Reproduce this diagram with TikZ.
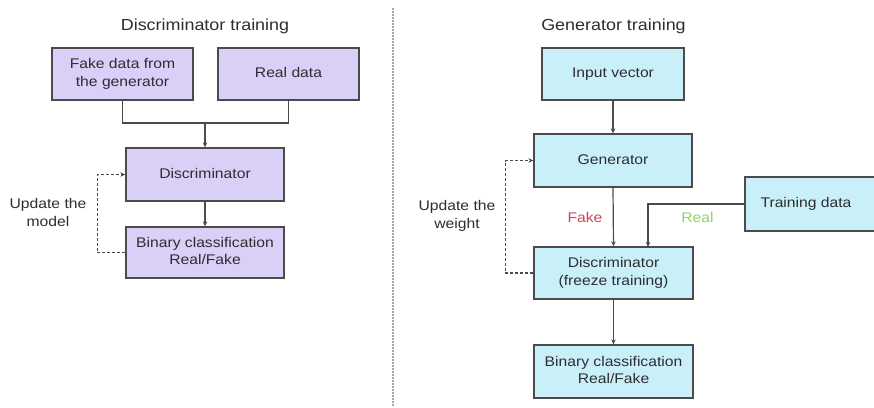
\documentclass[tikz,border=0pt]{standalone}
\usepackage{fontspec}
\setmainfont{Liberation Sans}
\usepackage{graphicx}
\usetikzlibrary{arrows.meta}
\definecolor{lav}{RGB}{217,207,247}
\definecolor{cyanbox}{RGB}{201,240,248}
\definecolor{edge}{RGB}{75,75,75}
\definecolor{txt}{RGB}{45,45,50}
\definecolor{fakered}{RGB}{200,72,90}
\definecolor{realgreen}{RGB}{141,212,106}
\newcommand{\wtxt}[1]{\scalebox{1.12}[1]{\begin{tabular}{@{}c@{}}#1\end{tabular}}}
\tikzset{
  box/.style={draw=edge, line width=1.3pt, rectangle, inner sep=0pt, text=txt,
    font=\fontsize{14}{17.5}\selectfont},
  lbox/.style={box, fill=lav},
  cbox/.style={box, fill=cyanbox},
  conn/.style={draw=edge, line width=1.2pt, -{Stealth[length=5pt,width=4.5pt]}},
  plain/.style={draw=edge, line width=1.2pt},
  loop/.style={draw=edge, line width=1.1pt, dash pattern=on 3pt off 2pt, -{Stealth[length=5pt,width=4.5pt]}},
  lbl/.style={text=txt, font=\fontsize{14}{17.5}\selectfont},
  ttl/.style={text=txt, font=\fontsize{16}{19}\selectfont}
}
\begin{document}
\begin{tikzpicture}[x=1pt,y=-1pt]
\useasboundingbox (0,0) rectangle (874,407);
\clip (0,0) rectangle (874,407);
\fill[white] (0,0) rectangle (874,407);

% divider
\coordinate (dtop) at (393,8);
\coordinate (dbot) at (393,407);
\draw[gray!70, line width=1.6pt, dash pattern=on 1.5pt off 1.5pt] (dtop) -- (dbot);

% titles
\node[ttl] (t1) at (205,27) {\wtxt{Discriminator training}};
\node[ttl] (t2) at (613.5,27) {\wtxt{Generator training}};

% left side
\node[lbox, minimum width=141pt, minimum height=52pt] (fake) at (122.5,74) {\wtxt{Fake data from\\the generator}};
\node[lbox, minimum width=141pt, minimum height=52pt] (real) at (288.5,74) {\wtxt{Real data}};
\node[lbox, minimum width=158pt, minimum height=53pt] (disc1) at (205,174.5) {\wtxt{Discriminator}};
\node[lbox, minimum width=158pt, minimum height=51pt] (bin1) at (205,252.5) {\wtxt{Binary classification\\Real/Fake}};
\coordinate (j1) at (205,123);
\draw[plain] (fake.south) |- (j1);
\draw[plain] (real.south) |- (j1);
\draw[conn] (j1) -- (disc1.north);
\draw[conn] (disc1.south) -- (bin1.north);
\draw[loop] (bin1.west) -- ++(-28,0) |- (disc1.west);
\node[lbl] (upd1) at (48,214) {\wtxt{Update the\\model}};

% right side
\node[cbox, minimum width=142pt, minimum height=52pt] (inp) at (613,74) {\wtxt{Input vector}};
\node[cbox, minimum width=158pt, minimum height=53pt] (gen) at (613,160.5) {\wtxt{Generator}};
\node[cbox, minimum width=159pt, minimum height=52pt] (disc2) at (613.5,273) {\wtxt{Discriminator\\(freeze training)}};
\node[cbox, minimum width=159pt, minimum height=53pt] (bin2) at (613.5,371.5) {\wtxt{Binary classification\\Real/Fake}};
\node[cbox, minimum width=135pt, minimum height=54pt] (train) at (812.5,204) {};
\node[lbl] (trainlbl) at (806,204) {\wtxt{Training data}};
\draw[conn] (inp.south) -- (gen.north);
\draw[conn] (gen.south) -- (disc2.north);
\coordinate (rd) at (648,247);
\draw[conn] (train.west) -| (rd);
\draw[conn] (disc2.south) -- (bin2.north);
\draw[loop] (disc2.west) -- ++(-28,0) |- (gen.west);
\node[lbl, text=fakered] (fk) at (585,219) {\wtxt{Fake}};
\node[lbl, text=realgreen] (rl) at (697.5,219) {\wtxt{Real}};
\node[lbl] (upd2) at (457,216) {\wtxt{Update the\\weight}};
\end{tikzpicture}
\end{document}
